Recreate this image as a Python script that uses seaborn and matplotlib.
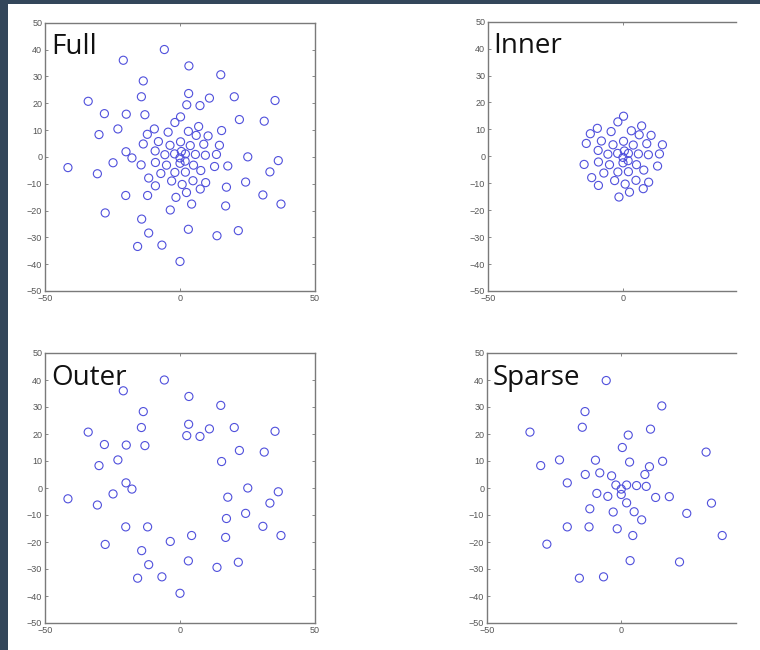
import numpy as np
import matplotlib
matplotlib.use("Agg")
import matplotlib.pyplot as plt
from matplotlib.patches import Rectangle
import seaborn as sns

# ---- data ----
outer_x = [-5.8, -21.0, 3.3, 15.1, -13.6, 3.2, -34.0, -14.3, 2.5, 7.4, 10.9, 20.1, 35.2,
           -28.0, -19.9, -13.0, 22.0, 31.2, -23.0, -30.0, 15.4, -20.0, -17.8, 25.1, 36.4,
           -41.5, -24.8, -30.6, 17.7, 33.3, 24.3, 17.2, -20.1, -12.0, 30.7, 37.4, 4.3,
           -3.6, 16.9, -27.7, -14.2, 3.1, 21.6, 13.7, -11.6, -15.7, -6.7, 0.0]
outer_y = [40.0, 36.0, 33.9, 30.6, 28.3, 23.6, 20.7, 22.4, 19.4, 19.1, 21.9, 22.4, 21.0,
           16.1, 15.9, 15.7, 13.9, 13.3, 10.4, 8.3, 9.8, 1.9, -0.4, 0.0, -1.4,
           -4.0, -2.2, -6.3, -3.4, -5.6, -9.4, -11.3, -14.4, -14.4, -14.2, -17.6, -17.6,
           -19.8, -18.3, -20.9, -23.2, -27.0, -27.5, -29.4, -28.4, -33.4, -32.9, -39.0]

inner_x = [0.2, -1.9, 6.9, 3.1, 6.0, 10.4, -9.5, -12.1, -13.6, -4.4, -8.0, -3.7, 0.2, 3.8,
           8.8, 14.6, -9.2, -5.6, -2.0, 0.5, 2.0, 5.7, 9.4, 13.5, -14.4, -9.1, -5.0, 0.0,
           0.0, 1.9, 5.0, 12.8, -11.6, -7.1, -1.9, 2.0, 7.7, -9.1, -3.1, 0.8, 4.8, 9.5,
           7.5, 2.4, -1.5]
inner_y = [14.9, 12.8, 11.3, 9.5, 8.0, 7.8, 10.4, 8.4, 4.8, 9.2, 5.7, 4.3, 5.6, 4.2,
           4.7, 4.3, 2.2, 0.8, 1.1, 2.0, 1.1, 0.9, 0.6, 0.9, -3.0, -2.1, -3.1, -0.4,
           -2.4, -1.6, -3.1, -3.6, -7.9, -6.2, -5.8, -5.7, -5.1, -10.8, -9.0, -10.3, -8.9, -9.6,
           -12.0, -13.3, -15.1]

sparse_x = [-5.6, 15.1, -13.5, -14.5, -34.0, 10.9, 2.6, 0.4, 31.6, -30.0, -23.0, -9.6, 3.1,
            15.4, 10.5, -13.4, -8.0, -3.6, 8.8, -20.1, -2.0, 2.0, 5.7, 9.3, 0.0, 0.0, -9.1,
            -5.0, 12.8, 17.9, 33.6, 2.0, -11.7, -3.0, 4.8, 7.6, 24.4, -20.1, -12.0, -1.5,
            4.3, 37.6, -27.7, 3.3, 21.7, -15.6, -6.6]
sparse_y = [39.8, 30.4, 28.3, 22.5, 20.7, 21.8, 19.6, 15.0, 13.3, 8.3, 10.4, 10.3, 9.6,
            9.9, 7.9, 5.0, 5.6, 4.5, 5.0, 1.9, 1.1, 1.1, 0.9, 0.6, -0.4, -2.4, -2.0,
            -3.1, -3.5, -3.2, -5.6, -5.5, -7.7, -8.9, -8.8, -11.8, -9.4, -14.4, -14.4, -15.1,
            -17.6, -17.6, -20.8, -26.9, -27.4, -33.4, -32.9]

full_x = outer_x + inner_x
full_y = outer_y + inner_y

panels = ["Full", "Inner", "Outer", "Sparse"]
yticks = list(range(-50, 51, 10))
xticks = [-50, 0, 50]

# ---- figure ----
sns.set_style("white")
plt.rcParams["font.family"] = ["Liberation Sans", "DejaVu Sans"]

W, H = 760, 650
fig = plt.figure(figsize=(W / 100, H / 100), dpi=100)
fig.patch.set_facecolor("white")

def add_ax(left, right, top, bottom):
    return fig.add_axes([left / W, 1 - bottom / H, (right - left) / W, (bottom - top) / H])

axes = [
    add_ax(45, 315, 22.7, 291),
    add_ax(488, 736, 21.7, 291),
    add_ax(45, 315, 353, 623),
    add_ax(487, 736, 353, 623),
]
data = [(full_x, full_y), (inner_x, inner_y), (outer_x, outer_y), (sparse_x, sparse_y)]

for i, (ax, name, (xs, ys)) in enumerate(zip(axes, panels, data)):
    sns.scatterplot(x=xs, y=ys, ax=ax, s=34, marker="o", legend=False)
    for coll in ax.collections:
        coll.set_facecolor("none")
        coll.set_edgecolor("#5050dc")
        coll.set_linewidth(0.8)
    ax.set_ylim(-50, 50)
    right_col = i % 2 == 1
    if right_col:
        pos = ax.get_position()
        xmax = -50 + 100 * (pos.width * W) / (270 if i == 1 else 268.5)
        ax.set_xlim(-50, xmax)
        ax.spines["right"].set_visible(False)
    else:
        ax.set_xlim(-50, 50)
    ax.set_xticks([t for t in xticks if t <= ax.get_xlim()[1]])
    ax.set_yticks(yticks)
    ax.tick_params(direction="in", length=2.5, width=0.7, colors="#888888",
                   labelcolor="#555555", labelsize=6.5, pad=2,
                   top=True, right=not right_col, left=True, bottom=True)
    for sp in ax.spines.values():
        sp.set_color("#7a7a7a")
        sp.set_linewidth(1.0)
    ax.set_facecolor("white")
    ax.text(0.022, 0.882, name, transform=ax.transAxes, ha="left", va="baseline",
            fontsize=20, color="#111111", family=["Open Sans", "DejaVu Sans"])

# dark slide border (left and top)
fig.add_artist(Rectangle((0, 0), 8 / W, 1, transform=fig.transFigure,
                         facecolor="#33465a", edgecolor="none", zorder=10))
fig.add_artist(Rectangle((0, 1 - 4 / H), 1, 4 / H, transform=fig.transFigure,
                         facecolor="#33465a", edgecolor="none", zorder=10))

fig.savefig("out.png", dpi=100, facecolor="white")
